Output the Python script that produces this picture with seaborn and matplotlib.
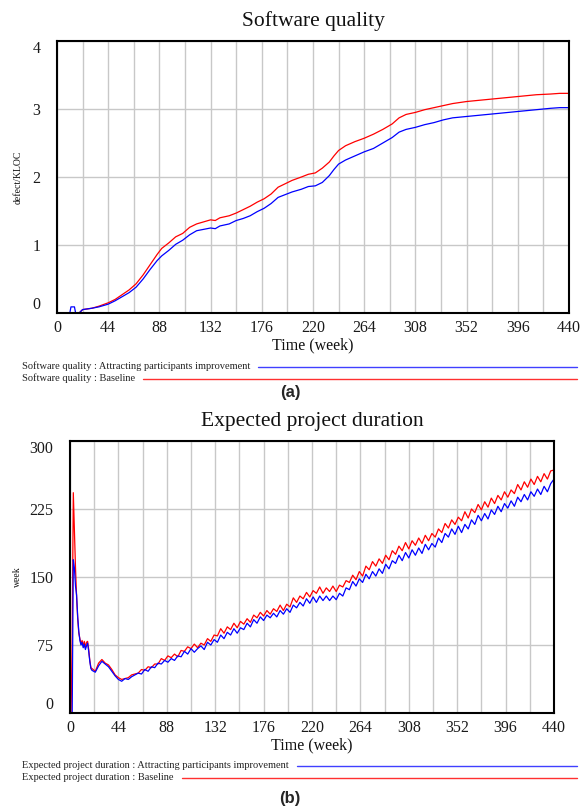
import numpy as np
import pandas as pd
import seaborn as sns
import matplotlib
matplotlib.use("Agg")
import matplotlib.pyplot as plt
from matplotlib.lines import Line2D
from matplotlib.ticker import MultipleLocator

# ---- (a) Software quality, defect/KLOC ----
weeks_a = [0, 11, 12, 15, 16, 19, 22, 30, 36, 44, 50, 56, 62, 68, 74, 80, 86, 90, 96,
           102, 108, 114, 120, 126, 132, 136, 140, 148, 154, 160, 166, 172, 178, 184,
           190, 196, 202, 210, 216, 222, 228, 234, 238, 242, 248, 256, 264, 272, 280,
           288, 294, 300, 308, 316, 324, 332, 340, 352, 364, 376, 388, 400, 412, 424,
           432, 440]
quality_improve = [0, 0, 0.09, 0.09, 0, 0, 0.05, 0.07, 0.09, 0.13, 0.18, 0.24, 0.30,
                   0.38, 0.50, 0.64, 0.77, 0.84, 0.92, 1.01, 1.07, 1.15, 1.21, 1.23,
                   1.25, 1.24, 1.28, 1.31, 1.36, 1.39, 1.43, 1.49, 1.54, 1.61, 1.70,
                   1.74, 1.78, 1.82, 1.86, 1.87, 1.92, 2.02, 2.11, 2.19, 2.25, 2.31,
                   2.37, 2.42, 2.50, 2.58, 2.66, 2.70, 2.73, 2.77, 2.80, 2.84, 2.87,
                   2.89, 2.91, 2.93, 2.95, 2.97, 2.99, 3.01, 3.02, 3.02]
quality_base = [0, 0, 0, 0, 0, 0, 0.05, 0.07, 0.10, 0.15, 0.20, 0.27, 0.34, 0.43, 0.56,
                0.71, 0.86, 0.95, 1.03, 1.12, 1.17, 1.26, 1.31, 1.34, 1.37, 1.36, 1.40,
                1.43, 1.47, 1.52, 1.57, 1.63, 1.68, 1.75, 1.85, 1.90, 1.95, 2.00, 2.04,
                2.06, 2.13, 2.22, 2.31, 2.39, 2.46, 2.52, 2.57, 2.63, 2.70, 2.78, 2.87,
                2.92, 2.95, 2.99, 3.02, 3.05, 3.08, 3.11, 3.13, 3.15, 3.17, 3.19, 3.21,
                3.22, 3.23, 3.23]

# ---- (b) Expected project duration, week ----
weeks_b = list(range(0, 20)) + list(range(20, 441, 3))
duration_improve = [
    0, 0, 0, 169, 160, 140, 130, 106, 90, 80, 75, 78, 72, 76, 70, 74, 77, 68, 57, 49,
    47, 45, 52, 57, 54, 51, 46, 41, 37, 35, 38, 37, 40, 42,
    44, 43, 48, 46, 51, 50, 55, 54, 58, 56,
    60, 58, 63, 62, 68, 65, 71, 67, 71, 74,
    70, 78, 75, 81, 78, 86, 82, 89, 86, 93,
    88, 94, 92, 99, 95, 103, 99, 106, 102, 108,
    105, 110, 106, 113, 109, 115, 111, 119, 116, 122,
    118, 126, 121, 128, 122, 129, 124, 129, 124, 129,
    125, 132, 129, 138, 136, 145, 140, 148, 144, 153,
    148, 156, 151, 159, 154, 164, 159, 168, 165, 174,
    168, 177, 171, 180, 174, 182, 176, 186, 180, 187,
    183, 193, 188, 198, 194, 203, 197, 206, 199, 208,
    203, 213, 208, 218, 212, 220, 214, 224, 219, 228,
    222, 231, 226, 234, 228, 238, 233, 241, 235, 244,
    239, 247, 241, 250, 244, 253, 258]
duration_base = [
    0, 0, 85, 243, 200, 160, 128, 104, 88, 82, 76, 80, 74, 79, 72, 78, 79, 70, 58, 50,
    49, 46, 55, 59, 55, 53, 48, 42, 39, 37, 38, 39, 42, 43,
    44, 48, 47, 51, 50, 54, 54, 60, 58, 63,
    61, 65, 62, 69, 68, 73, 71, 76, 72, 77,
    75, 82, 79, 86, 85, 93, 88, 95, 92, 99,
    94, 101, 98, 104, 100, 108, 105, 111, 107, 113,
    109, 115, 112, 119, 113, 120, 117, 127, 122, 129,
    126, 133, 128, 135, 132, 139, 132, 138, 134, 140,
    134, 141, 139, 146, 144, 152, 147, 156, 151, 162,
    158, 167, 162, 170, 165, 174, 169, 179, 175, 184,
    179, 188, 181, 190, 185, 193, 187, 196, 190, 198,
    194, 203, 199, 209, 204, 213, 208, 216, 212, 222,
    215, 225, 221, 230, 224, 233, 227, 237, 231, 240,
    235, 244, 238, 246, 242, 252, 246, 255, 249, 258,
    252, 261, 255, 264, 258, 267, 268]

x_ticks = [0, 44, 88, 132, 176, 220, 264, 308, 352, 396, 440]

sns.set_theme(style="whitegrid")
plt.rcParams['font.family'] = ['Liberation Serif', 'DejaVu Serif']

fig = plt.figure(figsize=(5.8, 8.1), dpi=100)
W, H = 580, 810
ax1 = fig.add_axes([57 / W, 1 - 313 / H, 512 / W, 272 / H])
ax2 = fig.add_axes([70 / W, 1 - 713 / H, 484 / W, 272 / H])

df_a = pd.DataFrame({"week": weeks_a, "improve": quality_improve, "base": quality_base})
df_b = pd.DataFrame({"week": weeks_b, "improve": duration_improve, "base": duration_base})

for ax, df in [(ax1, df_a), (ax2, df_b)]:
    sns.lineplot(data=df, x="week", y="base", color="#ff0000", lw=0.9, ax=ax,
                 estimator=None)
    sns.lineplot(data=df, x="week", y="improve", color="#0000ff", lw=0.9, ax=ax,
                 estimator=None)


def style_axis(ax, ymax, ystep, ylabel, title, ylab_x):
    ax.set_xlim(0, 440)
    ax.set_ylim(0, ymax)
    ax.set_xticks(x_ticks)
    ax.xaxis.set_minor_locator(MultipleLocator(22))
    ax.set_yticks(np.arange(0, ymax + ystep / 2, ystep))
    ax.grid(True, which="both", axis="x", color="#c8c8c8", lw=1.0)
    ax.grid(True, which="major", axis="y", color="#c8c8c8", lw=1.0)
    ax.tick_params(axis="both", which="both", length=0, labelsize=11.5,
                   colors="#1a1a1a")
    ax.tick_params(axis="x", pad=5)
    ax.tick_params(axis="y", pad=12)
    for s in ax.spines.values():
        s.set_color("black")
        s.set_linewidth(1.5)
    ax.set_title(title, fontsize=15.5, pad=11, color="#111111")
    ax.set_xlabel("Time (week)", fontsize=11.5, labelpad=1, color="#111111")
    ax.set_ylabel(ylabel, fontsize=7, color="#111111")
    ax.yaxis.set_label_coords(ylab_x, 0.5)
    ticks = ax.yaxis.get_major_ticks()
    ticks[0].label1.set_va("bottom")
    ticks[-1].label1.set_va("top")


style_axis(ax1, 4, 1, "defect/KLOC", "Software quality", -0.068)
style_axis(ax2, 300, 75, "week", "Expected project duration", -0.10)

# legend rows drawn under each chart, text followed by a long coloured line
rows = [
    ("Software quality : Attracting participants improvement", "#4040ff", 366),
    ("Software quality : Baseline", "#ff3030", 378),
    ("Expected project duration : Attracting participants improvement", "#4040ff", 765),
    ("Expected project duration : Baseline", "#ff3030", 777),
]
fig.canvas.draw()
renderer = fig.canvas.get_renderer()
for label, col, ypix in rows:
    t = fig.text(22 / W, 1 - ypix / H, label, fontsize=7.5, va="center", ha="left",
                 color="#222222")
    bb = t.get_window_extent(renderer=renderer)
    x0 = bb.x1 / W + 8 / W
    fig.add_artist(Line2D([x0, 577 / W], [1 - (ypix + 1) / H] * 2, color=col, lw=1.0,
                          transform=fig.transFigure))

fig.text(290 / W, 1 - 393 / H, "(a)", fontsize=12, fontweight="bold",
         family="Liberation Sans", ha="center", va="center")
fig.text(290 / W, 1 - 798 / H, "(b)", fontsize=12, fontweight="bold",
         family="Liberation Sans", ha="center", va="center")

fig.savefig("out.png", dpi=100)
